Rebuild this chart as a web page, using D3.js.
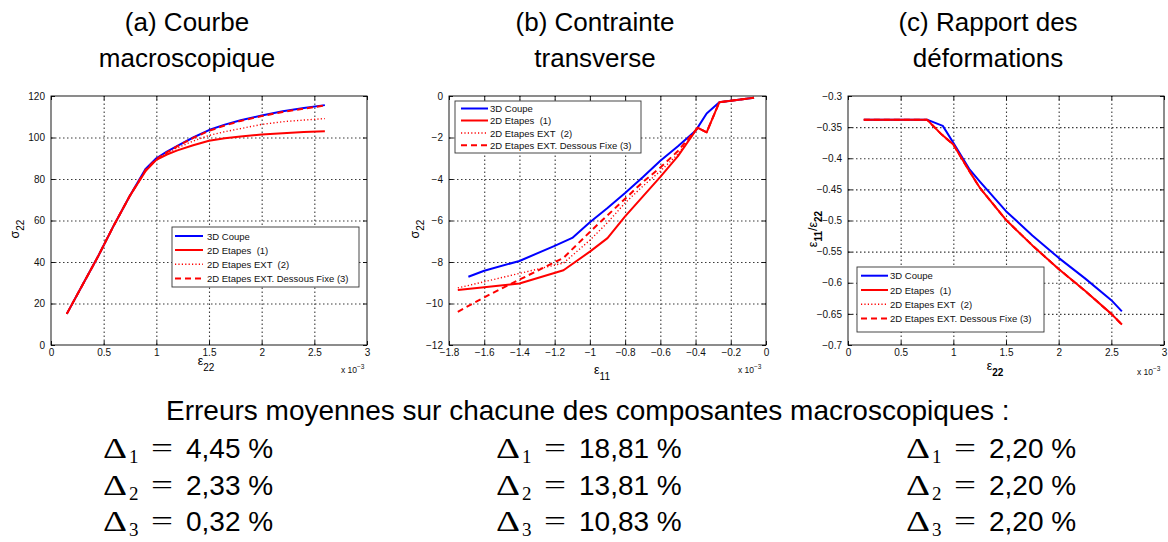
<!DOCTYPE html>
<html><head><meta charset="utf-8">
<script src="https://cdn.jsdelivr.net/npm/d3@7"></script>
<style>body{margin:0;background:#fff} svg{display:block}</style>
</head><body>
<svg id="chart" width="1168" height="542"></svg>
<script>
// ---------------- data ----------------
const legendLabels = ["3D Coupe", "2D Etapes  (1)", "2D Etapes EXT  (2)", "2D Etapes EXT. Dessous Fixe (3)"];

const titleA = ["(a) Courbe", "macroscopique"];
const titleB = ["(b) Contrainte", "transverse"];
const titleC = ["(c) Rapport des", "déformations"];

// Panel (a): sigma22 vs eps22 (x 1e-3)
const aX    = [0.15, 0.3, 0.45, 0.6, 0.75, 0.9, 1.0, 1.1, 1.2, 1.35, 1.5, 1.65, 1.8, 2.0, 2.2, 2.4, 2.6];
const aBlue = [15, 29, 43, 58, 72, 85, 90, 93.2, 96, 100, 103.6, 106.2, 108.3, 110.6, 112.6, 114.2, 115.6];
const aRed1 = [15, 29, 43, 58, 72, 84, 89.2, 91.8, 93.8, 96.3, 98.4, 99.6, 100.5, 101.4, 102.1, 102.6, 103];
const aRed2 = [15, 29, 43, 58, 72, 84, 89.4, 92.5, 95, 98.3, 101, 102.8, 104.3, 106.3, 107.6, 108.4, 109.1];
const aRed3 = [15, 29, 43, 58, 72, 84.5, 89.6, 92.8, 95.8, 99.8, 103.2, 105.8, 108, 110.3, 112.3, 113.9, 115.4];
const aXTicks = [0, 0.5, 1, 1.5, 2, 2.5, 3];
const aYTicks = [0, 20, 40, 60, 80, 100, 120];

// Panel (b): sigma22 vs eps11 (x 1e-3)
const bBlueX = [-1.69, -1.6, -1.4, -1.2, -1.1, -1.0, -0.9, -0.8, -0.7, -0.6, -0.5, -0.4, -0.337, -0.265, -0.068];
const bBlueY = [-8.71, -8.42, -7.95, -7.22, -6.84, -6.08, -5.4, -4.68, -3.92, -3.12, -2.42, -1.68, -0.84, -0.3, -0.08];
const bRedX  = [-1.75, -1.6, -1.4, -1.15, -1.0, -0.9, -0.8, -0.7, -0.6, -0.5, -0.388, -0.337, -0.265, -0.068];
const bRed1  = [-9.35, -9.22, -9.04, -8.4, -7.5, -6.85, -5.8, -4.85, -3.9, -2.9, -1.53, -1.75, -0.3, -0.08];
const bRed2  = [-9.25, -8.95, -8.55, -8.05, -6.95, -6.1, -5.15, -4.35, -3.62, -2.8, -1.53, -1.75, -0.3, -0.08];
const bRed3  = [-10.4, -9.7, -8.85, -7.8, -6.55, -5.75, -4.95, -4.15, -3.45, -2.65, -1.53, -1.75, -0.3, -0.08];
const bXTicks = [-1.8, -1.6, -1.4, -1.2, -1, -0.8, -0.6, -0.4, -0.2, 0];
const bYTicks = [-12, -10, -8, -6, -4, -2, 0];

// Panel (c): eps11/eps22 vs eps22 (x 1e-3)
const cBlueX = [0.15, 0.75, 0.9, 1.0, 1.15, 1.25, 1.5, 1.75, 2.0, 2.25, 2.5, 2.6];
const cBlueY = [-0.338, -0.338, -0.348, -0.375, -0.417, -0.437, -0.485, -0.524, -0.56, -0.593, -0.628, -0.646];
const cRedX  = [0.15, 0.75, 0.89, 1.0, 1.16, 1.25, 1.5, 1.75, 2.0, 2.25, 2.5, 2.6];
const cRed1  = [-0.338, -0.338, -0.362, -0.378, -0.423, -0.447, -0.499, -0.54, -0.578, -0.613, -0.65, -0.667];
const cRed2  = [-0.338, -0.338, -0.362, -0.378, -0.423, -0.447, -0.499, -0.54, -0.578, -0.613, -0.65, -0.667];
const cRed3  = [-0.338, -0.338, -0.362, -0.378, -0.423, -0.447, -0.499, -0.54, -0.578, -0.613, -0.65, -0.667];
const cXTicks = [0, 0.5, 1, 1.5, 2, 2.5, 3];
const cYTicks = [-0.7, -0.65, -0.6, -0.55, -0.5, -0.45, -0.4, -0.35, -0.3];

// Summary text
const summaryTitle = "Erreurs moyennes sur chacune des composantes macroscopiques :";
const errorsA = ["4,45 %", "2,33 %", "0,32 %"];
const errorsB = ["18,81 %", "13,81 %", "10,83 %"];
const errorsC = ["2,20 %", "2,20 %", "2,20 %"];

// ---------------- drawing ----------------
const svg = d3.select("#chart");
const SANS = "'Liberation Sans', Arial, sans-serif";
const SERIF = "'Liberation Serif', 'Times New Roman', serif";

const styles = [
  {stroke: "#0000ff", width: 2, dash: null},
  {stroke: "#ff0000", width: 2, dash: null},
  {stroke: "#ff0000", width: 1.4, dash: "1.2,2.2"},
  {stroke: "#ff0000", width: 2, dash: "6,4"}
];

function panel(cfg) {
  const g = svg.append("g");
  const x = d3.scaleLinear().domain(cfg.xDom).range([cfg.l, cfg.r]);
  const y = d3.scaleLinear().domain(cfg.yDom).range([cfg.b, cfg.t]);
  const fmt = d3.format("");

  // grid (dotted) drawn as gridlines of extra d3 axes
  const gx = d3.axisBottom(x).tickValues(cfg.xTicks.slice(1, -1)).tickSize(-(cfg.b - cfg.t)).tickFormat("");
  const gy = d3.axisLeft(y).tickValues(cfg.yTicks.slice(1, -1)).tickSize(-(cfg.r - cfg.l)).tickFormat("");
  const gridStyle = sel => {
    sel.select(".domain").remove();
    sel.selectAll("line").attr("stroke", "#3a3a3a").attr("stroke-width", 1.1).attr("stroke-dasharray", "1.5,2.5");
  };
  g.append("g").attr("transform", `translate(0,${cfg.b})`).call(gx).call(gridStyle);
  g.append("g").attr("transform", `translate(${cfg.l},0)`).call(gy).call(gridStyle);

  // axes with inward ticks (bottom/left) + mirrored (top/right)
  const axB = d3.axisBottom(x).tickValues(cfg.xTicks).tickSize(-4).tickPadding(4).tickFormat(fmt);
  const axT = d3.axisTop(x).tickValues(cfg.xTicks).tickSize(-4).tickFormat("");
  const axL = d3.axisLeft(y).tickValues(cfg.yTicks).tickSize(-4).tickPadding(6).tickFormat(fmt);
  const axR = d3.axisRight(y).tickValues(cfg.yTicks).tickSize(-4).tickFormat("");
  const style = sel => {
    sel.select(".domain").remove();
    sel.selectAll("line").attr("stroke", "#000").attr("stroke-width", 0.9);
    sel.selectAll("text").attr("font-family", SANS).attr("font-size", 10).attr("fill", "#111");
  };
  g.append("g").attr("transform", `translate(0,${cfg.b})`).call(axB).call(style);
  g.append("g").attr("transform", `translate(0,${cfg.t})`).call(axT).call(style);
  g.append("g").attr("transform", `translate(${cfg.l},0)`).call(axL).call(style);
  g.append("g").attr("transform", `translate(${cfg.r},0)`).call(axR).call(style);

  // series
  const line = d3.line().x(d => x(d[0])).y(d => y(d[1]));
  cfg.series.forEach((s, i) => {
    const st = styles[i];
    g.append("path").datum(d3.zip(s.x, s.y)).attr("d", line)
      .attr("fill", "none").attr("stroke", st.stroke).attr("stroke-width", st.width)
      .attr("stroke-dasharray", st.dash).attr("stroke-linejoin", "round");
  });

  // box
  g.append("rect").attr("x", cfg.l).attr("y", cfg.t).attr("width", cfg.r - cfg.l).attr("height", cfg.b - cfg.t)
    .attr("fill", "none").attr("stroke", "#000").attr("stroke-width", 0.9);

  // legend
  const L = cfg.legend;
  const lg = g.append("g");
  lg.append("rect").attr("x", L.x).attr("y", L.y).attr("width", L.w).attr("height", L.h)
    .attr("fill", "#fff").attr("stroke", "#333").attr("stroke-width", 0.9);
  legendLabels.forEach((lab, i) => {
    const yy = L.rows[i];
    const st = styles[i];
    lg.append("line").attr("x1", L.sx0).attr("x2", L.sx1).attr("y1", yy).attr("y2", yy)
      .attr("stroke", st.stroke).attr("stroke-width", st.width).attr("stroke-dasharray", st.dash);
    lg.append("text").attr("x", L.tx).attr("y", yy + 3.5).text(lab)
      .attr("font-family", SANS).attr("font-size", 9.5).attr("fill", "#111")
      .style("white-space", "pre");
  });

  // x label
  const xl = g.append("text").attr("x", cfg.xlab.x).attr("y", cfg.xlab.y)
    .attr("text-anchor", "middle").attr("font-family", SANS).attr("font-size", 12.5).attr("fill", "#000");
  xl.append("tspan").text(cfg.xlab.main);
  xl.append("tspan").attr("dy", 6).attr("font-size", 10).attr("font-weight", cfg.xlab.bold ? "bold" : null).text(cfg.xlab.sub);

  // y label (rotated)
  const yl = g.append("text").attr("transform", `translate(${cfg.ylab.x},${cfg.ylab.y}) rotate(-90)`)
    .attr("text-anchor", "middle").attr("font-family", SANS).attr("font-size", 12.5).attr("fill", "#000");
  cfg.ylab.parts.forEach(p => {
    const t = yl.append("tspan").text(p.t);
    if (p.sub) t.attr("font-size", 10).attr("dy", p.dy).attr("font-weight", p.bold ? "bold" : null);
    else if (p.dy) t.attr("dy", p.dy);
  });

  // exponent label
  const ex = g.append("text").attr("x", cfg.exp.x).attr("y", cfg.exp.y)
    .attr("font-family", SANS).attr("font-size", 8.5).attr("fill", "#111");
  ex.append("tspan").text("x 10");
  ex.append("tspan").attr("dy", -4).attr("font-size", 6.5).text("\u22123");

  // title
  cfg.title.forEach((t, i) => {
    svg.append("text").attr("x", cfg.tx).attr("y", 31 + i * 36).attr("text-anchor", "middle")
      .attr("font-family", SANS).attr("font-size", 26).attr("fill", "#000").text(t);
  });
}

panel({
  l: 51, t: 96, r: 367, b: 345, xDom: [0, 3], yDom: [0, 120], xTicks: aXTicks, yTicks: aYTicks,
  series: [{x: aX, y: aBlue}, {x: aX, y: aRed1}, {x: aX, y: aRed2}, {x: aX, y: aRed3}],
  legend: {x: 172, y: 227, w: 187, h: 60, rows: [236, 250, 264.2, 278.4], sx0: 175, sx1: 203, tx: 207},
  xlab: {x: 206, y: 365, main: "\u03b5", sub: "22"},
  ylab: {x: 19, y: 229, parts: [{t: "\u03c3"}, {t: "22", sub: true, dy: 5}]},
  exp: {x: 341, y: 373},
  title: titleA, tx: 187
});

panel({
  l: 449, t: 96, r: 766, b: 345, xDom: [-1.8, 0], yDom: [-12, 0], xTicks: bXTicks, yTicks: bYTicks,
  series: [{x: bBlueX, y: bBlueY}, {x: bRedX, y: bRed1}, {x: bRedX, y: bRed2}, {x: bRedX, y: bRed3}],
  legend: {x: 455, y: 101, w: 186, h: 52, rows: [108.5, 120.5, 133, 145.3], sx0: 461, sx1: 488, tx: 490},
  xlab: {x: 602, y: 374, main: "\u03b5", sub: "11"},
  ylab: {x: 419, y: 229, parts: [{t: "\u03c3"}, {t: "22", sub: true, dy: 5}]},
  exp: {x: 738, y: 373},
  title: titleB, tx: 595
});

panel({
  l: 848, t: 96, r: 1164, b: 345, xDom: [0, 3], yDom: [-0.7, -0.3], xTicks: cXTicks, yTicks: cYTicks,
  series: [{x: cBlueX, y: cBlueY}, {x: cRedX, y: cRed1}, {x: cRedX, y: cRed2}, {x: cRedX, y: cRed3}],
  legend: {x: 857, y: 267, w: 187, h: 65, rows: [275.7, 290, 304.2, 318.4], sx0: 861, sx1: 888, tx: 890},
  xlab: {x: 995, y: 370, main: "\u03b5", sub: "22", bold: true},
  ylab: {x: 817, y: 229, parts: [{t: "\u03b5"}, {t: "11", sub: true, dy: 5, bold: true}, {t: "/", dy: -5}, {t: "\u03b5", dy: 0}, {t: "22", sub: true, dy: 5, bold: true}]},
  exp: {x: 1137, y: 375},
  title: titleC, tx: 988
});

// ---------------- summary ----------------
svg.append("text").attr("x", 166).attr("y", 420).attr("font-family", SANS).attr("font-size", 28)
  .attr("fill", "#000").text(summaryTitle);

const colX = [103, 496, 906];
const rowY = [458, 495, 531];
[errorsA, errorsB, errorsC].forEach((errs, c) => {
  errs.forEach((v, r) => {
    const x0 = colX[c], y0 = rowY[r];
    svg.append("text").attr("x", x0).attr("y", y0).attr("font-family", SERIF).attr("font-size", 29)
      .attr("textLength", 24).attr("lengthAdjust", "spacingAndGlyphs").text("\u0394");
    svg.append("text").attr("x", x0 + 26).attr("y", y0 + 5).attr("font-family", SERIF).attr("font-size", 19)
      .text(String(r + 1));
    svg.append("text").attr("x", x0 + 48).attr("y", y0 - 1).attr("font-family", SERIF).attr("font-size", 28)
      .attr("textLength", 22).attr("lengthAdjust", "spacingAndGlyphs").text("=");
    svg.append("text").attr("x", x0 + 83).attr("y", y0).attr("font-family", SANS).attr("font-size", 28)
      .style("white-space", "pre").text(v);
  });
});
</script>
</body></html>
